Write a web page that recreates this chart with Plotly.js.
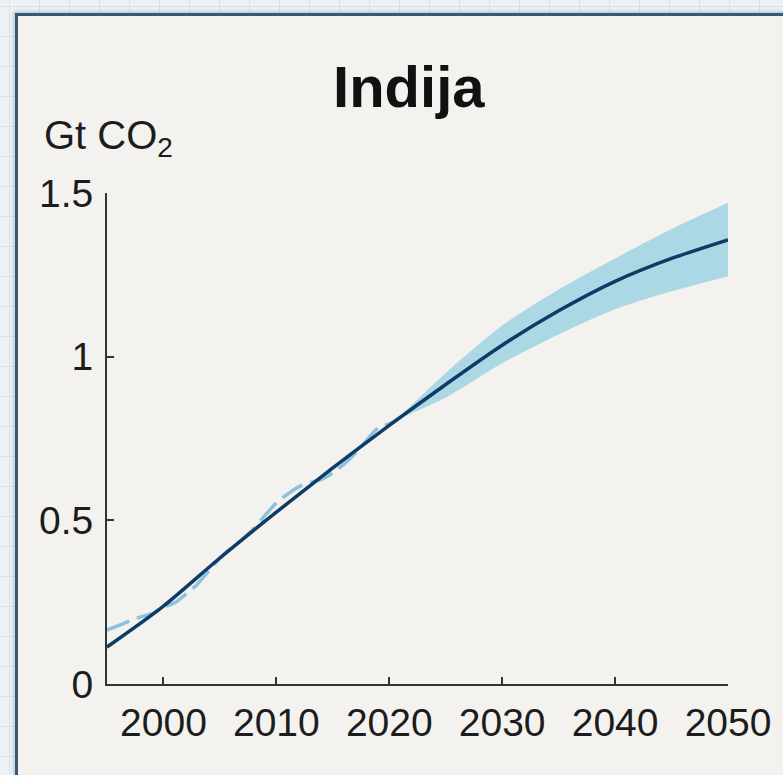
<!DOCTYPE html>
<html>
<head>
<meta charset="utf-8">
<script src="https://cdn.plot.ly/plotly-3.0.1.min.js"></script>
<style>
  html, body { margin: 0; padding: 0; width: 783px; height: 775px; overflow: hidden; }
  body {
    background-color: #eef2f4;
    background-image:
      linear-gradient(to right, #d4e3ec 1px, transparent 1px),
      linear-gradient(to bottom, #d4e3ec 1px, transparent 1px);
    background-size: 30px 30px;
    background-position: 9px 6px;
  }
  #panel {
    position: absolute; left: 15px; top: 13px; width: 800px; height: 800px;
    background: #f3f2ee;
    border-left: 3px solid #3a5670; border-top: 3px solid #3a5670;
    box-shadow: -2px -2px 3px rgba(120,170,210,0.45);
  }
  #chart { position: absolute; left: 0; top: 0; width: 783px; height: 775px; }
</style>
</head>
<body>
<div id="panel"></div>
<div id="chart"></div>
<script>
// Emissions path for India, Gt CO2
const trendYears  = [1995, 2000, 2005, 2010, 2015, 2020, 2025, 2030, 2035, 2040, 2045, 2050];
const trendValues = [0.113, 0.238, 0.385, 0.525, 0.66, 0.79, 0.915, 1.035, 1.14, 1.23, 1.30, 1.357];

// Observed emissions
const histYears  = [1995, 1996, 1997, 1998, 1999, 2000, 2001, 2002, 2003, 2004, 2005, 2006, 2007,
                    2008, 2009, 2010, 2011, 2012, 2013, 2014, 2015, 2016, 2017, 2018, 2019, 2020, 2021];
const histValues = [0.165, 0.178, 0.192, 0.205, 0.215, 0.235, 0.248, 0.275, 0.305, 0.345, 0.385, 0.415, 0.443,
                    0.475, 0.515, 0.553, 0.58, 0.603, 0.615, 0.625, 0.645, 0.672, 0.705, 0.745, 0.782, 0.795, 0.815];

// Projection uncertainty range
const bandYears = [2021, 2025, 2030, 2035, 2040, 2045, 2050];
const bandLow   = [0.812, 0.875, 0.98, 1.068, 1.145, 1.20, 1.245];
const bandHigh  = [0.82, 0.95, 1.095, 1.205, 1.30, 1.39, 1.47];

const xTicks = [2000, 2010, 2020, 2030, 2040, 2050];
const yTicks = [0, 0.5, 1, 1.5];
const yTickText = ['0', '0.5', '1', '1.5'];

const fontFamily = '"Liberation Sans", Arial, Helvetica, sans-serif';

const traces = [
  { x: bandYears, y: bandLow, mode: 'lines', line: { width: 0, shape: 'spline', smoothing: 0.7 },
    hoverinfo: 'skip', showlegend: false },
  { x: bandYears, y: bandHigh, mode: 'lines', line: { width: 0, shape: 'spline', smoothing: 0.7 },
    fill: 'tonexty', fillcolor: '#acd8e6', hoverinfo: 'skip', showlegend: false },
  { x: histYears, y: histValues, mode: 'lines',
    line: { color: '#8cc2df', width: 3.5, dash: '24px,8px', shape: 'spline', smoothing: 0.8 }, showlegend: false },
  { x: trendYears, y: trendValues, mode: 'lines',
    line: { color: '#0f3c66', width: 3.5, shape: 'spline', smoothing: 0.8 }, showlegend: false }
];

const axisCommon = {
  showline: true, linecolor: '#333', linewidth: 2,
  ticks: 'inside', ticklen: 7, tickwidth: 2, tickcolor: '#333',
  showgrid: false, zeroline: false,
  tickfont: { family: fontFamily, size: 39, color: '#1c1c1c' },
  fixedrange: true
};

const layout = {
  width: 783, height: 775,
  margin: { l: 107, r: 55, t: 193, b: 91 },
  paper_bgcolor: 'rgba(0,0,0,0)',
  plot_bgcolor: 'rgba(0,0,0,0)',
  title: {
    text: '<b>Indija</b>',
    font: { family: fontFamily, size: 58, color: '#111' },
    xref: 'paper', x: 0.486, xanchor: 'center',
    yref: 'container', y: 0.888, yanchor: 'middle'
  },
  xaxis: Object.assign({}, axisCommon, {
    range: [1995, 2050], tickvals: xTicks, ticktext: xTicks.map(String), ticklabelstandoff: 3
  }),
  yaxis: Object.assign({}, axisCommon, {
    range: [0, 1.5], tickvals: yTicks, ticktext: yTickText, ticklabelstandoff: 4
  }),
  annotations: [{
    text: 'Gt CO<sub>2</sub>', showarrow: false,
    xref: 'paper', yref: 'paper', x: -0.105, y: 1.112, xanchor: 'left', yanchor: 'middle',
    font: { family: fontFamily, size: 40, color: '#1c1c1c' }
  }]
};

Plotly.newPlot('chart', traces, layout, { displayModeBar: false, staticPlot: true });
</script>
</body>
</html>
